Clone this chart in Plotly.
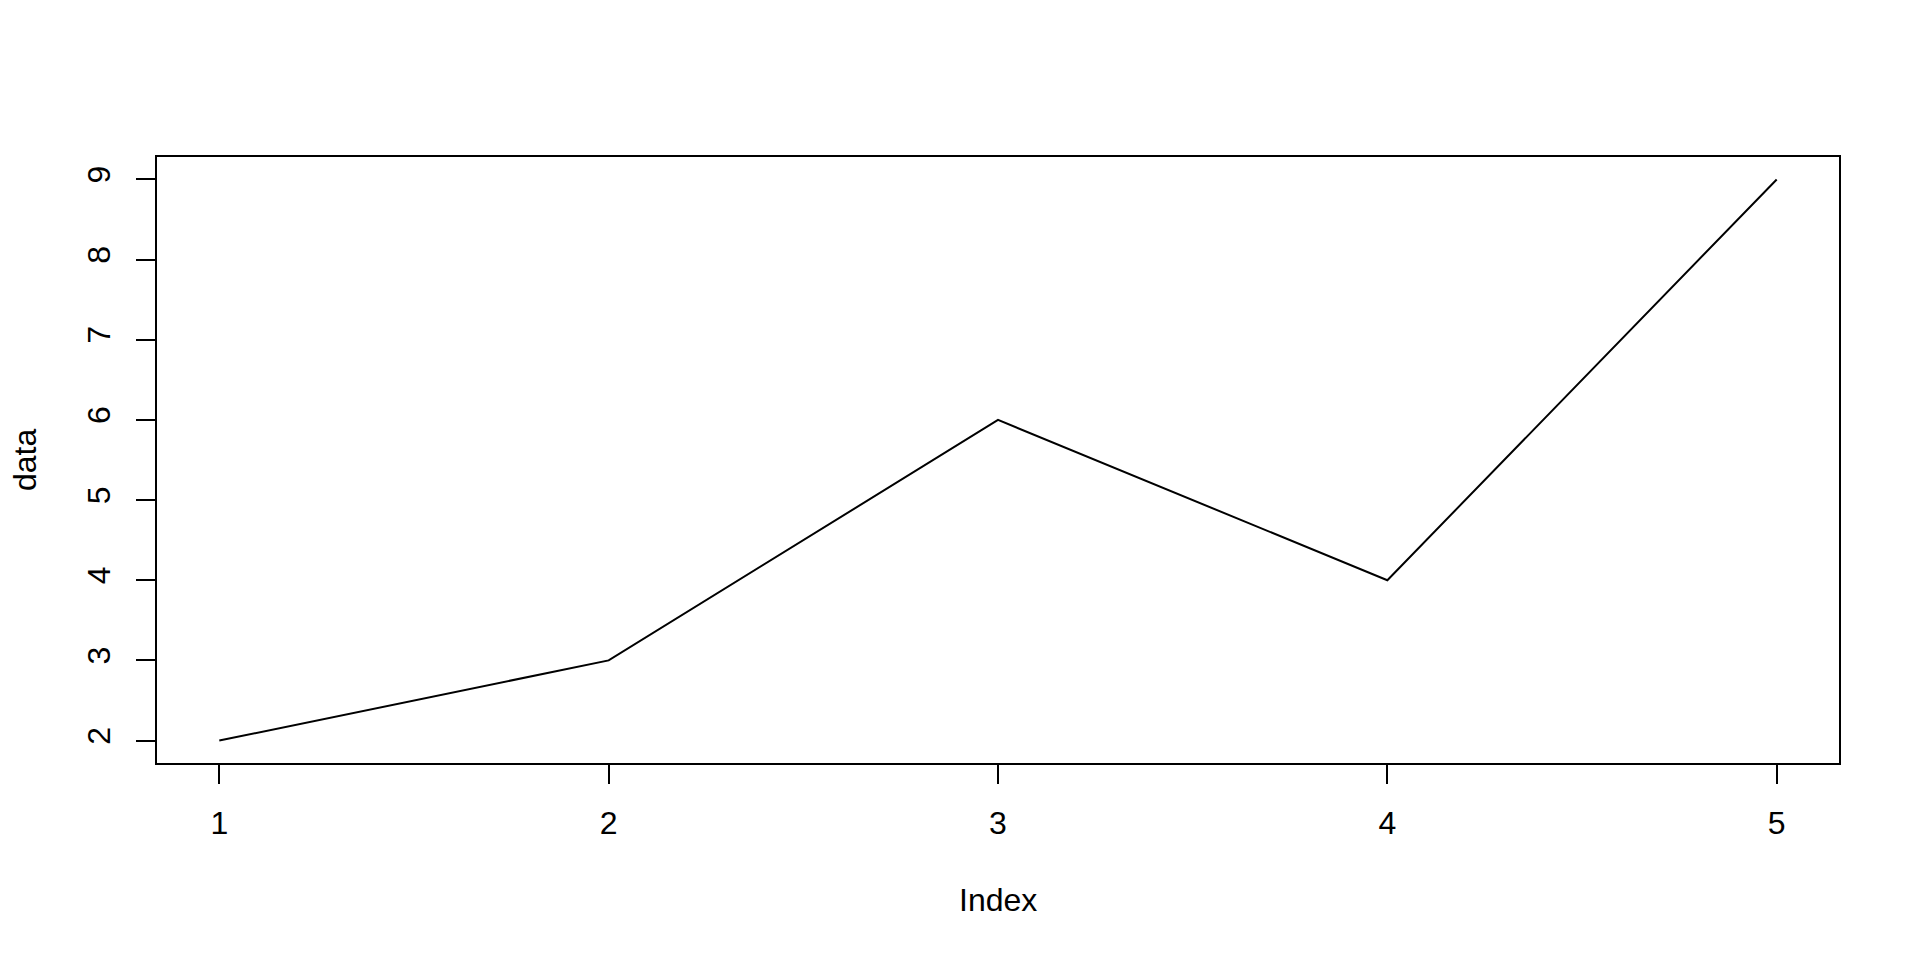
import plotly.graph_objects as go

index = [1, 2, 3, 4, 5]
data = [2, 3, 6, 4, 9]
x_ticks = [1, 2, 3, 4, 5]
y_ticks = [2, 3, 4, 5, 6, 7, 8, 9]

FONT = "Liberation Sans, Arial, Helvetica, sans-serif"

fig = go.Figure()
fig.add_trace(go.Scatter(x=index, y=data, mode="lines",
                         line=dict(color="black", width=2), showlegend=False))

axis_common = dict(showgrid=False, zeroline=False, showline=True, linecolor="black",
                   linewidth=2, mirror=True, ticks="outside", ticklen=19, tickwidth=2,
                   tickcolor="black", tickfont=dict(family=FONT, size=32, color="black"))

fig.update_xaxes(range=[0.84, 5.16], tickvals=x_ticks, ticktext=[str(v) for v in x_ticks],
                 ticklabelstandoff=12, **axis_common)
fig.update_yaxes(range=[1.72, 9.28], tickvals=y_ticks, ticktext=[str(v) for v in y_ticks],
                 tickangle=-90, ticklabelstandoff=13, **axis_common)

fig.add_annotation(text="Index", xref="paper", yref="paper", x=0.5, y=0, yshift=-137,
                   xanchor="center", yanchor="middle", showarrow=False,
                   font=dict(family=FONT, size=32, color="black"))
fig.add_annotation(text="data", xref="paper", yref="paper", x=0, y=0.5, xshift=-132,
                   xanchor="center", yanchor="middle", textangle=-90, showarrow=False,
                   font=dict(family=FONT, size=32, color="black"))

fig.update_layout(width=1920, height=960, margin=dict(l=149, r=89, t=149, b=205),
                  paper_bgcolor="white", plot_bgcolor="white",
                  font=dict(family=FONT, size=32, color="black"))

fig.write_html("out.html")
